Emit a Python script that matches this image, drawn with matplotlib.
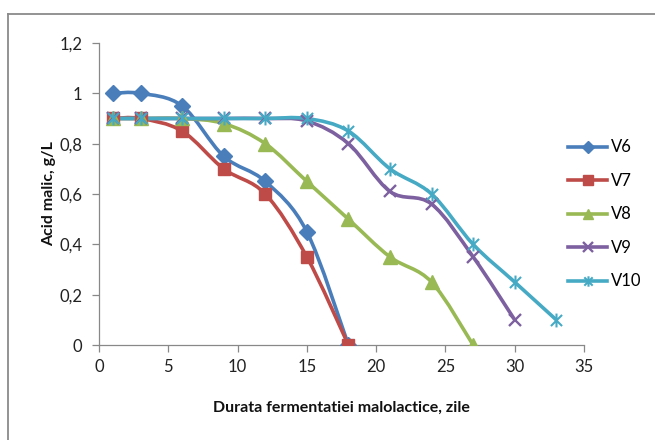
import numpy as np
import matplotlib
matplotlib.use("Agg")
import matplotlib.pyplot as plt
from matplotlib.path import Path
from matplotlib.patches import PathPatch
from matplotlib.lines import Line2D

plt.rcParams['font.family'] = ['Lato', 'DejaVu Sans']

# Malic acid content (g/L) over malolactic fermentation time (days)
days_v6 = [1, 3, 6, 9, 12, 15, 18]
v6 = [1.0, 1.0, 0.95, 0.75, 0.65, 0.45, 0.0]
days_v7 = [1, 3, 6, 9, 12, 15, 18]
v7 = [0.9, 0.9, 0.85, 0.7, 0.6, 0.35, 0.0]
days_v8 = [1, 3, 6, 9, 12, 15, 18, 21, 24, 27]
v8 = [0.9, 0.9, 0.9, 0.88, 0.8, 0.65, 0.5, 0.35, 0.25, 0.0]
days_v9 = [1, 3, 6, 9, 12, 15, 18, 21, 24, 27, 30]
v9 = [0.9, 0.9, 0.9, 0.9, 0.9, 0.89, 0.8, 0.61, 0.56, 0.35, 0.1]
days_v10 = [1, 3, 6, 9, 12, 15, 18, 21, 24, 27, 30, 33]
v10 = [0.9, 0.9, 0.9, 0.9, 0.9, 0.9, 0.85, 0.7, 0.6, 0.4, 0.25, 0.1]

labels = ['V6', 'V7', 'V8', 'V9', 'V10']
colors = ['#4A7EBB', '#BE4B48', '#98B954', '#7D60A0', '#46AAC5']

xticks = [0, 5, 10, 15, 20, 25, 30, 35]
yticks = [0, 0.2, 0.4, 0.6, 0.8, 1.0, 1.2]
ytick_labels = ['0', '0,2', '0,4', '0,6', '0,8', '1', '1,2']

# six-armed star: vertical bar plus a cross
star = Path([(0, -1), (0, 1), (-0.8, -0.8), (0.8, 0.8), (-0.8, 0.8), (0.8, -0.8)],
            [Path.MOVETO, Path.LINETO, Path.MOVETO, Path.LINETO, Path.MOVETO, Path.LINETO])

markers = ['D', 's', '^', 'x', star]
msizes = [8.5, 9, 10, 9, 10]
medge = [1, 1, 1, 1.7, 1.5]


def smooth_path(x, y):
    pts = np.column_stack([x, y]).astype(float)
    n = len(pts)
    verts = [pts[0]]
    codes = [Path.MOVETO]
    for i in range(n - 1):
        p0 = pts[i - 1] if i > 0 else pts[i]
        p1 = pts[i]
        p2 = pts[i + 1]
        p3 = pts[i + 2] if i + 2 < n else pts[i + 1]
        verts += [p1 + (p2 - p0) / 6, p2 - (p3 - p1) / 6, p2]
        codes += [Path.CURVE4] * 3
    return Path(verts, codes)


fig = plt.figure(figsize=(6.55, 4.4), dpi=100)
ax = fig.add_axes([0.1511, 0.2159, 0.7405, 0.6864])

series = [(days_v6, v6), (days_v7, v7), (days_v8, v8), (days_v9, v9), (days_v10, v10)]
handles = []
for k, (xs, ys) in enumerate(series):
    ax.add_patch(PathPatch(smooth_path(xs, ys), facecolor='none', edgecolor=colors[k],
                           lw=2.6, capstyle='round', joinstyle='round', zorder=2 + k * 0.01))
for k, (xs, ys) in enumerate(series):
    ax.plot(xs, ys, linestyle='none', marker=markers[k], markersize=msizes[k],
            color=colors[k], markeredgecolor=colors[k], markeredgewidth=medge[k], zorder=3 + k * 0.01)
    handles.append(Line2D([], [], color=colors[k], lw=2.6, marker=markers[k],
                          markersize=msizes[k] * 0.75, markeredgewidth=medge[k],
                          markeredgecolor=colors[k]))

ax.set_xlim(0, 35)
ax.set_ylim(0, 1.2)
ax.set_xticks(xticks)
ax.set_yticks(yticks)
ax.set_yticklabels(ytick_labels)
for s in ['top', 'right']:
    ax.spines[s].set_visible(False)
for s in ['left', 'bottom']:
    ax.spines[s].set_color('#888888')
    ax.spines[s].set_linewidth(0.9)
ax.tick_params(axis='both', direction='out', length=5, width=0.9, color='#888888',
               labelsize=12, labelcolor='#222222')
ax.tick_params(axis='x', pad=5)
ax.tick_params(axis='y', pad=7)

ax.set_xlabel('Durata fermentatiei malolactice, zile', fontsize=11.5, fontweight='bold',
              color='#111111', labelpad=19)
ax.set_ylabel('Acid malic, g/L', fontsize=11.5, fontweight='bold', color='#111111', labelpad=2)

ax.legend(handles, labels, loc='upper left', bbox_to_anchor=(0.855, 0.702),
          bbox_transform=fig.transFigure, frameon=False, fontsize=12,
          handlelength=2.3, handletextpad=0.25, labelspacing=1.05, borderpad=0)

# outer chart frame
fig.add_artist(Line2D([8 / 655, 8 / 655], [0, 1 - 14 / 440], transform=fig.transFigure,
                      color='#8a8a8a', lw=1.3))
fig.add_artist(Line2D([8 / 655, 1], [1 - 14 / 440, 1 - 14 / 440], transform=fig.transFigure,
                      color='#8a8a8a', lw=1.3))

fig.savefig('out.png', dpi=100)
